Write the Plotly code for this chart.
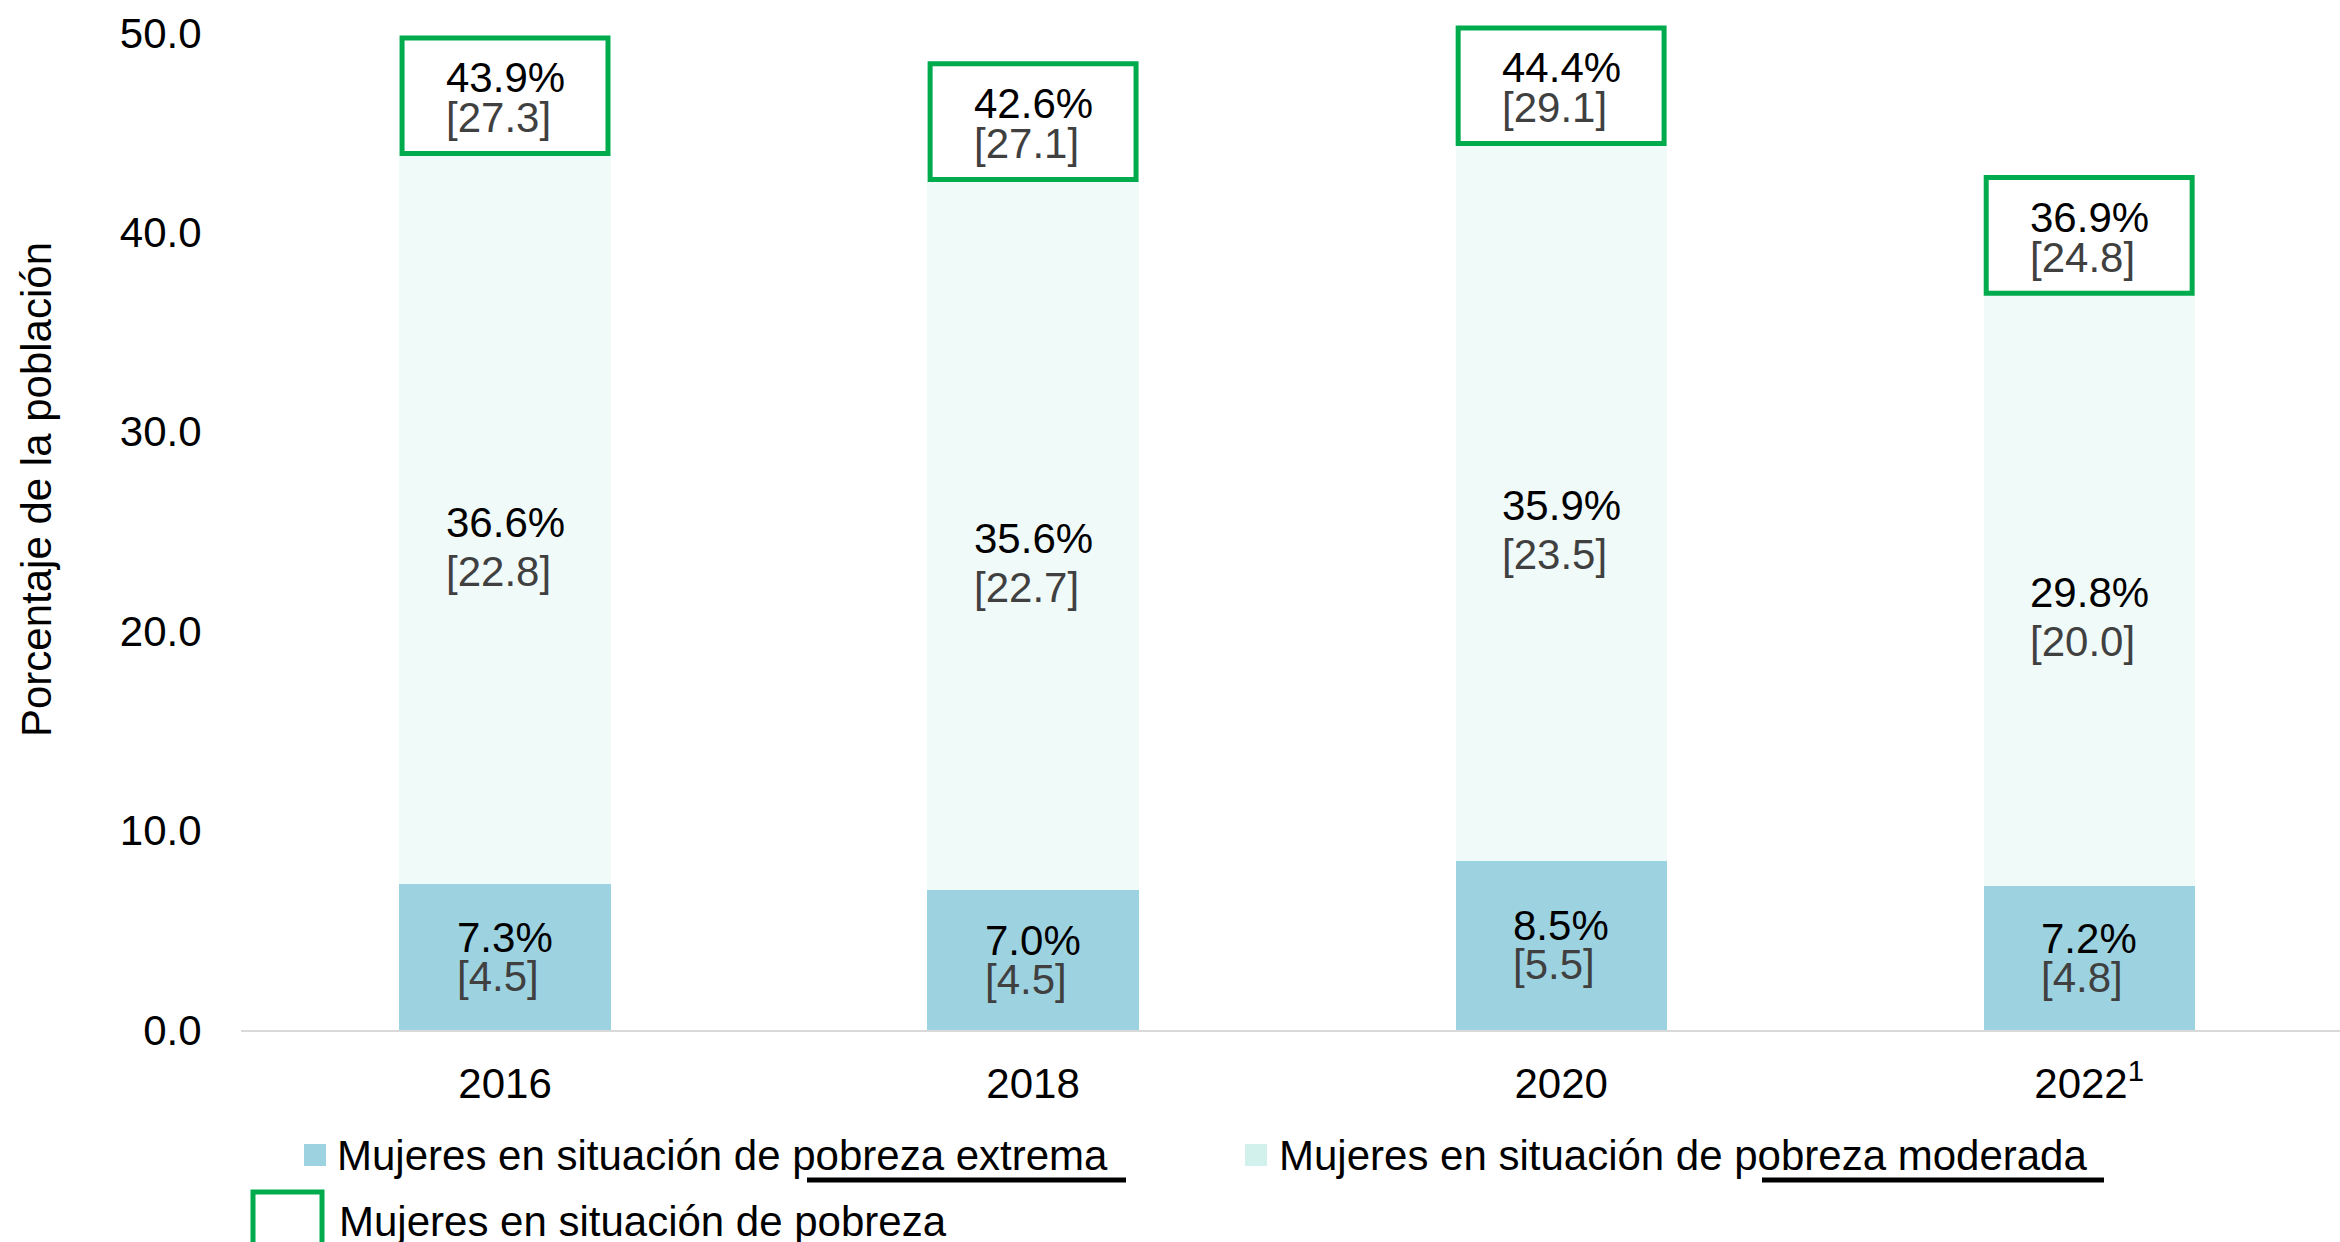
import plotly.graph_objects as go

# ---------------- data ----------------
years = ["2016", "2018", "2020", "2022"]
year_labels = ["2016", "2018", "2020", "2022<sup>1</sup>"]
ext_pct = [7.3, 7.0, 8.5, 7.2]          # pobreza extrema (%)
ext_mill = [4.5, 4.5, 5.5, 4.8]         # millones
mod_pct = [36.6, 35.6, 35.9, 29.8]      # pobreza moderada (%)
mod_mill = [22.8, 22.7, 23.5, 20.0]
tot_pct = [43.9, 42.6, 44.4, 36.9]      # pobreza (%)
tot_mill = [27.3, 27.1, 29.1, 24.8]
y_ticks = [0, 10, 20, 30, 40, 50]

legend_ext = "Mujeres en situación de pobreza extrema"
legend_mod = "Mujeres en situación de pobreza moderada"
legend_tot = "Mujeres en situación de pobreza"
y_title = "Porcentaje de la población"

# ---------------- style ----------------
FONT = "Liberation Sans, Arial, sans-serif"
FS = 42
C_EXT = "#9DD3E0"
C_MOD = "#F0FAF8"
C_MOD_LEG = "#D3F1EC"
C_GREEN = "#00AB4E"
C_GRAY = "#404040"

W, H = 2340, 1242
ML, MR, MT, MB = 241, 0, 3, 212
PW, PH = W - ML - MR, H - MT - MB


def xp(px):
    return (px - ML) / PW


def yp(py):
    return (H - MB - py) / PH


xs = list(range(len(years)))

fig = go.Figure()
fig.add_trace(go.Bar(x=xs, y=ext_pct, marker=dict(color=C_EXT, line_width=0),
                     width=0.4, name=legend_ext, showlegend=False))
fig.add_trace(go.Bar(x=xs, y=mod_pct, marker=dict(color=C_MOD, line_width=0),
                     width=0.4, name=legend_mod, showlegend=False))

ann = []
shapes = []


def label(x, yc, pct, mill, sp):
    # base font size sets the line spacing (1.3 em); spans carry the visible size
    txt = (f"<span style='font-size:{FS}px;color:black'>{pct:.1f}%</span><br>"
           f"<span style='font-size:{FS}px;color:{C_GRAY}'>[{mill:.1f}]</span>")
    ann.append(dict(x=x, y=yc, xref="x", yref="y", text=txt, align="left",
                    showarrow=False, xanchor="center", yanchor="middle",
                    font=dict(family=FONT, size=sp / 1.3, color="black")))


for i in xs:
    # extreme
    label(i, ext_pct[i] / 2, ext_pct[i], ext_mill[i], 39)
    # moderate
    label(i, ext_pct[i] + mod_pct[i] / 2 - 1.4, mod_pct[i], mod_mill[i], 49)
    # total box
    shapes.append(dict(type="rect", xref="x", yref="y", x0=i - 0.195, x1=i + 0.195,
                       y0=tot_pct[i] + 0.05, y1=tot_pct[i] + 5.85,
                       line=dict(color=C_GREEN, width=5), fillcolor="white", layer="above"))
    label(i, tot_pct[i] + 2.85, tot_pct[i], tot_mill[i], 40)

# y-axis title
ann.append(dict(x=xp(36), y=yp(490), xref="paper", yref="paper", text=y_title,
                textangle=-90, showarrow=False, xanchor="center", yanchor="middle",
                font=dict(family=FONT, size=FS, color="black")))

# manual legend
shapes.append(dict(type="rect", xref="paper", yref="paper", x0=xp(304), x1=xp(326),
                   y0=yp(1144), y1=yp(1166), fillcolor=C_EXT, line_width=0))
ann.append(dict(x=xp(335), y=yp(1155), xref="paper", yref="paper", text=legend_ext,
                showarrow=False, xanchor="left", yanchor="middle",
                font=dict(family=FONT, size=FS, color="black")))
shapes.append(dict(type="rect", xref="paper", yref="paper", x0=xp(1245), x1=xp(1267),
                   y0=yp(1144), y1=yp(1166), fillcolor=C_MOD_LEG, line_width=0))
ann.append(dict(x=xp(1277), y=yp(1155), xref="paper", yref="paper", text=legend_mod,
                showarrow=False, xanchor="left", yanchor="middle",
                font=dict(family=FONT, size=FS, color="black")))
shapes.append(dict(type="rect", xref="paper", yref="paper", x0=xp(253), x1=xp(322),
                   y0=yp(1260), y1=yp(1192), fillcolor="white",
                   line=dict(color=C_GREEN, width=5)))
ann.append(dict(x=xp(337), y=yp(1221), xref="paper", yref="paper", text=legend_tot,
                showarrow=False, xanchor="left", yanchor="middle",
                font=dict(family=FONT, size=FS, color="black")))
# underline marks
for x0, x1 in [(807, 1126), (1762, 2104)]:
    shapes.append(dict(type="line", xref="paper", yref="paper", x0=xp(x0), x1=xp(x1),
                       y0=yp(1180), y1=yp(1180), line=dict(color="black", width=5)))

fig.update_layout(
    width=W, height=H,
    margin=dict(l=ML, r=MR, t=MT, b=MB, pad=0),
    barmode="stack",
    plot_bgcolor="white", paper_bgcolor="white",
    font=dict(family=FONT, size=FS, color="black"),
    annotations=ann, shapes=shapes,
    showlegend=False,
    xaxis=dict(range=[-0.5, 3.475], tickvals=xs, ticktext=year_labels,
               showline=True, linecolor="#D9D9D9", linewidth=2,
               ticks="outside", ticklen=16, tickcolor="rgba(0,0,0,0)",
               showgrid=False, zeroline=False,
               tickfont=dict(family=FONT, size=FS, color="black")),
    yaxis=dict(range=[0, 51.5], tickvals=y_ticks, ticktext=[f"{v:.1f}" for v in y_ticks],
               showline=False, showgrid=False, zeroline=False,
               ticks="outside", ticklen=30, tickcolor="rgba(0,0,0,0)",
               tickfont=dict(family=FONT, size=FS, color="black")),
)

fig.write_html("out.html", config={"displayModeBar": False},
               post_script="document.body.style.margin='0';")
